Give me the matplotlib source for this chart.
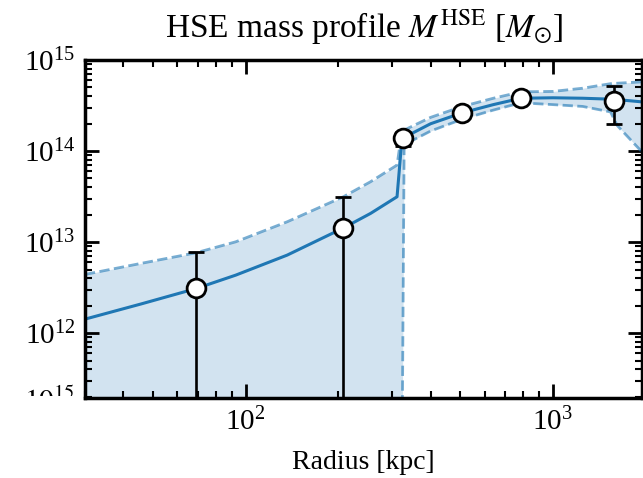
import matplotlib
matplotlib.use("Agg")
import matplotlib.pyplot as plt
from matplotlib.transforms import Bbox, TransformedBbox
import numpy as np

plt.rcParams["font.family"] = "serif"
plt.rcParams["font.serif"] = ["Liberation Serif", "DejaVu Serif"]
plt.rcParams["mathtext.fontset"] = "stix"

# model profile (radius in kpc, log10 mass)
mod_r = [30, 45.6, 69, 92.8, 136.5, 208, 255, 311, 322, 328, 400, 507, 640, 787,
         1000, 1250, 1540, 1620, 1950]
mod_med = [12.154, 12.32, 12.49, 12.637, 12.857, 13.155, 13.315, 13.498, 14.10, 14.15,
           14.30, 14.42, 14.51, 14.58, 14.585, 14.58, 14.57, 14.565, 14.54]
mod_hi = [12.645, 12.766, 12.883, 13.003, 13.223, 13.498, 13.663, 13.846, 14.20, 14.23,
          14.37, 14.49, 14.58, 14.65, 14.655, 14.69, 14.74, 14.745, 14.76]
mod_lo = [10.0, 10.0, 10.0, 10.0, 10.0, 10.0, 10.0, 10.0, 10.0, 14.07,
          14.22, 14.35, 14.45, 14.53, 14.51, 14.49, 14.43, 14.28, 13.99]

# HSE data points
pt_r = [69, 208, 324, 507, 787, 1578]
pt_m = [3.1e12, 1.43e13, 1.40e14, 2.63e14, 3.85e14, 3.55e14]
pt_lo = [1e10, 1e10, 1.14e14, 2.3e14, 3.4e14, 1.98e14]
pt_hi = [7.7e12, 3.1e13, 1.6e14, 2.9e14, 4.3e14, 5.2e14]

r = np.array(mod_r)
med = 10 ** np.array(mod_med)
hi = 10 ** np.array(mod_hi)
lo = 10 ** np.array(mod_lo)
m = np.array(pt_m)

fig = plt.figure(figsize=(6.43, 4.78), dpi=100)
ax = fig.add_axes([85 / 643, 1 - 398 / 478, (642 - 85) / 643, (398 - 60) / 478])

c = "#1f77b4"
ax.fill_between(r, lo, hi, color=c, alpha=0.2, lw=0)
ax.plot(r, med, color=c, lw=2.2)
ax.plot(r, hi, color=c, lw=2.0, ls="--", alpha=0.6)
ax.plot(r, lo, color=c, lw=2.0, ls="--", alpha=0.6)
ax.errorbar(pt_r, m, yerr=[m - np.array(pt_lo), np.array(pt_hi) - m], fmt="o",
            mfc="white", mec="black", ms=13.5, mew=2, ecolor="black",
            elinewidth=1.9, capsize=6, capthick=2.2, zorder=5)

ax.set_xscale("log")
ax.set_yscale("log")
ax.set_xlim(30, 1950)
ax.set_ylim(1.94e11, 1e15)
ax.set_xlabel("Radius [kpc]", fontsize=20, labelpad=10)
ax.set_title(r"HSE mass profile $M^{\rm HSE}$ [$M_{\odot}$]", fontsize=24, pad=16)

for s in ax.spines.values():
    s.set_linewidth(2.5)
ax.tick_params(which="both", direction="in", top=True, right=True, labelsize=21)
ax.tick_params(which="major", length=10, width=2, pad=7)
ax.tick_params(which="minor", length=5, width=1.5)

# tick label of the panel below, partly hidden
t = fig.text(75 / 643, 1 - 399 / 478, r"$10^{15}$", ha="right", va="center_baseline",
             fontsize=21)
t.set_clip_box(TransformedBbox(Bbox([[0, 1 - 396 / 478], [1, 1]]), fig.transFigure))
t.set_clip_on(True)

fig.savefig("out.png", dpi=100)
